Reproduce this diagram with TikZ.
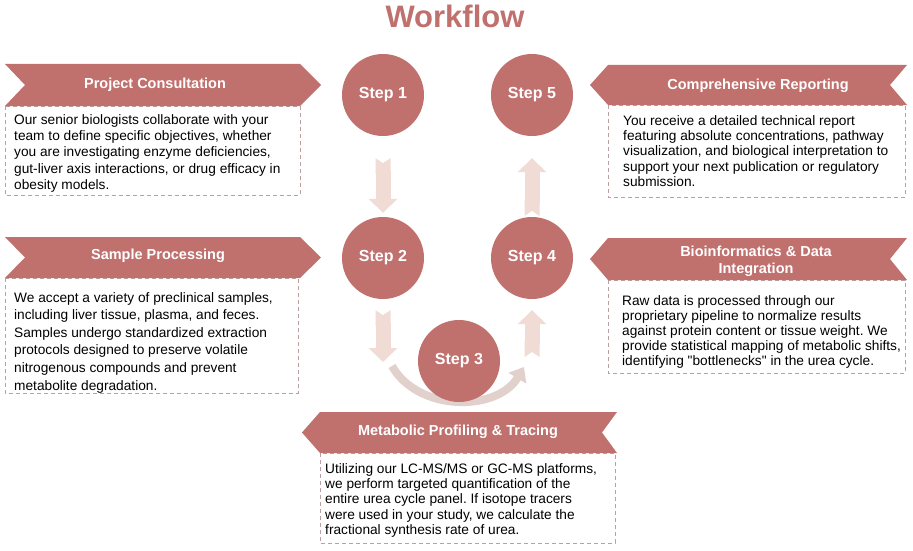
\documentclass[tikz,border=0pt]{standalone}
\usepackage{fontspec}
\setmainfont{Liberation Sans}
\usetikzlibrary{arrows.meta}
\frenchspacing

\definecolor{rose}{RGB}{192,112,109}
\definecolor{blush}{RGB}{240,219,213}
\definecolor{dust}{RGB}{225,208,204}
\definecolor{dashgray}{RGB}{186,160,160}

\tikzset{
  banner/.style={fill=rose},
  bannertext/.style={text=white, inner sep=0pt, align=center,
    font=\fontsize{14.5}{17}\selectfont\bfseries},
  infobox/.style={draw=dashgray, line width=1pt, dash pattern=on 4pt off 3pt},
  infotext/.style={anchor=north west, align=left, inner sep=0pt},
  stepnode/.style={circle, fill=rose, minimum size=82pt, inner sep=0pt,
    text=white, font=\fontsize{16}{19}\selectfont\bfseries},
  flowarrow/.style={draw=blush, line width=15pt,
    {Triangle Cap[reversed, length=5pt]}-{Triangle[width=28pt,length=14pt]}},
  curvearrow/.style={draw=dust, line width=8pt,
    -{Triangle[width=20pt,length=13pt]}},
}

\begin{document}
\begin{tikzpicture}[x=1pt, y=-1pt]
  \fill[white] (0,0) rectangle (913,551);

  % Title
  \node[text=rose, font=\fontsize{31}{36}\selectfont\bfseries] (title) at (455,16) {Workflow};

  % Info boxes (dashed)
  \draw[infobox] (5,106) rectangle (300,195);
  \draw[infobox] (5,278) rectangle (298,393);
  \draw[infobox] (608,105) rectangle (905,197);
  \draw[infobox] (608,280) rectangle (905,373);
  \draw[infobox] (320,453) rectangle (615,543);

  % Left banners
  \fill[banner] (5,64) -- (300,64) -- (321,85) -- (300,106) -- (5,106) -- (25,85) -- cycle;
  \node[bannertext] (consult) at (155,85) {Project Consultation};

  \fill[banner] (5,237) -- (300,237) -- (321,257.5) -- (300,278) -- (5,278) -- (25,257.5) -- cycle;
  \node[bannertext] (sample) at (158,256) {Sample Processing};

  % Right banners
  \fill[banner] (608,65) -- (907,65) -- (890,85) -- (907,105) -- (608,105) -- (590,85) -- cycle;
  \node[bannertext] (report) at (758,86) {Comprehensive Reporting};

  \fill[banner] (608,238) -- (907,238) -- (890,259) -- (907,280) -- (608,280) -- (590,259) -- cycle;
  \node[bannertext] (bioinf) at (756,261) {Bioinformatics \& Data\\Integration};

  % Bottom banner
  \fill[banner] (320,412) -- (617,412) -- (602,432.5) -- (617,453) -- (320,453) -- (302,432.5) -- cycle;
  \node[bannertext] (profile) at (458,432) {Metabolic Profiling \& Tracing};

  % Box texts
  \node[infotext, font=\fontsize{13.7}{16.4}\selectfont] (consulttxt) at (14,114)
    {Our senior biologists collaborate with your\\team to define specific objectives, whether\\you are investigating enzyme deficiencies,\\gut-liver axis interactions, or drug efficacy in\\obesity models.};
  \node[infotext, font=\fontsize{13.7}{17.6}\selectfont] (sampletxt) at (14,292)
    {We accept a variety of preclinical samples,\\including liver tissue, plasma, and feces.\\Samples undergo standardized extraction\\protocols designed to preserve volatile\\nitrogenous compounds and prevent\\metabolite degradation.};
  \node[infotext, font=\fontsize{13.7}{15.4}\selectfont] (reporttxt) at (623,115)
    {You receive a detailed technical report\\featuring absolute concentrations, pathway\\visualization, and biological interpretation to\\support your next publication or regulatory\\submission.};
  \node[infotext, font=\fontsize{13.7}{15}\selectfont] (bioinftxt) at (622,295)
    {Raw data is processed through our\\proprietary pipeline to normalize results\\against protein content or tissue weight. We\\provide statistical mapping of metabolic shifts,\\identifying \textquotedbl bottlenecks\textquotedbl{} in the urea cycle.};
  \node[infotext, font=\fontsize{13.7}{15.4}\selectfont] (profiletxt) at (325,463)
    {Utilizing our LC-MS/MS or GC-MS platforms,\\we perform targeted quantification of the\\entire urea cycle panel. If isotope tracers\\were used in your study, we calculate the\\fractional synthesis rate of urea.};

  % Curved arrow under step 3
  \coordinate (cl) at (392,366);
  \coordinate (cr) at (524,367);
  \draw[curvearrow] (cl) .. controls (418,412) and (497,412) .. (cr);

  % Steps
  \node[stepnode] (s1) at (383,95) {Step 1};
  \node[stepnode] (s2) at (383,258) {Step 2};
  \node[stepnode] (s3) at (459,361) {Step 3};
  \node[stepnode] (s4) at (532,258) {Step 4};
  \node[stepnode] (s5) at (532,95) {Step 5};

  % Straight arrows
  \coordinate (d3) at (383,362);
  \coordinate (u3) at (532,357);
  \draw[flowarrow, shorten <=22pt, shorten >=4pt] (s1) -- (s2);
  \draw[flowarrow, shorten <=11pt] (s2) -- (d3);
  \draw[flowarrow, shorten >=11pt] (u3) -- (s4);
  \draw[flowarrow, shorten <=1pt, shorten >=22pt] (s4) -- (s5);
\end{tikzpicture}
\end{document}
